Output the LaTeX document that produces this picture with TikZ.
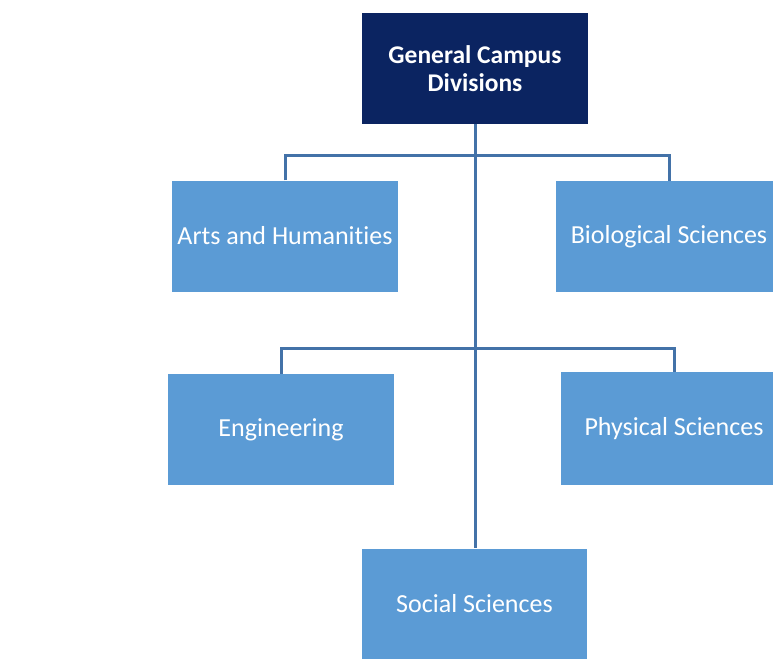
\documentclass[tikz,border=0pt]{standalone}
\usepackage{fontspec}
\setmainfont[Ligatures=NoCommon]{Carlito}
\definecolor{navy}{HTML}{0B2461}
\definecolor{boxblue}{HTML}{5B9BD5}
\definecolor{linkblue}{HTML}{4372A8}
\begin{document}
\begin{tikzpicture}[x=1pt,y=-1pt,
  unit/.style={rectangle, fill=boxblue, text=white, inner sep=0pt,
    minimum width=226pt, minimum height=111pt, font=\fontsize{26}{30}\selectfont},
  head/.style={unit, fill=navy, font=\bfseries\fontsize{25.5}{28}\selectfont, align=center},
  link/.style={draw=linkblue, line width=3pt}]
\useasboundingbox (0,0) rectangle (773,658);
\clip (0,0) rectangle (773,658);
\fill[white] (0,0) rectangle (773,658);
\node[head] (top) at (475,68.5) {General Campus\\Divisions};
\node[unit] (arts) at (285,236) {Arts and Humanities};
\node[unit] (bio) at (669,236.5) {Biological Sciences};
\node[unit] (eng) at (281,429.5) {Engineering};
\node[unit, minimum height=113pt] (phys) at (674,428.5) {Physical Sciences};
\node[unit, minimum width=225pt] (soc) at (474.5,604) {Social Sciences};
\coordinate (b1) at (475,155);
\coordinate (b2) at (475,348);
\draw[link] (top.south) -- (top.south |- soc.north);
\draw[link] (arts.north) |- (b1) -| (bio.north);
\draw[link] (eng.north) |- (b2) -| (phys.north);
\end{tikzpicture}
\end{document}
